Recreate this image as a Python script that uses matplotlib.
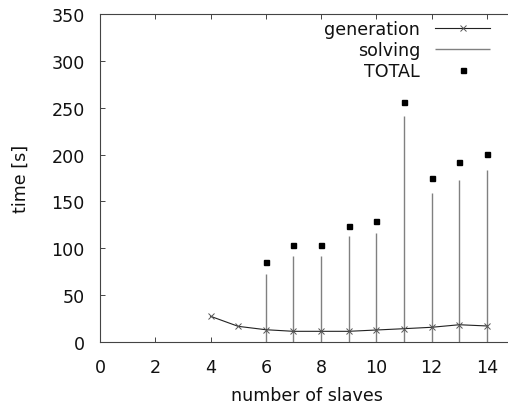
import matplotlib
matplotlib.use("Agg")
import matplotlib.pyplot as plt

# data
x_gen = [4, 5, 6, 7, 8, 9, 10, 11, 12, 13, 14]
generation = [27.7, 17.0, 13.4, 11.7, 11.7, 11.7, 13.1, 14.5, 16.0, 18.7, 17.4]
x_solve = [6, 7, 8, 9, 10, 11, 12, 13, 14]
solving = [72.7, 92.2, 92.2, 113.5, 116.4, 240.7, 158.7, 172.8, 183.5]
total = [85.2, 103.6, 103.6, 124.2, 128.9, 256.2, 174.6, 192.0, 200.9]
xticks = [0, 2, 4, 6, 8, 10, 12, 14]
yticks = [0, 50, 100, 150, 200, 250, 300, 350]

W, H = 508, 410
fig = plt.figure(figsize=(W / 100, H / 100), dpi=100)
plt.rcParams['font.family'] = ['DejaVu Sans']
fs = 12.6
tc = '#111111'

left, bottom_px, top_px = 100, 343.3, 14.7
ax_w = 27.64 * 15
ax = fig.add_axes([left / W, (H - bottom_px) / H, ax_w / W, (bottom_px - top_px) / H])

ax.plot(x_gen, generation, color='#222222', lw=0.8, marker='x', ms=5,
        mew=0.7, mec='#555555', label='generation', zorder=3)
ax.vlines(x_solve, 0, solving, colors='#808080', lw=1.0, label='solving', zorder=2)
ax.plot(x_solve, total, ls='none', marker='s', ms=3.6, color='black',
        label='TOTAL', zorder=4)

ax.set_xlim(0, 15)
ax.set_ylim(0, 350)
ax.set_xticks(xticks)
ax.set_yticks(yticks)
ax.tick_params(axis='x', direction='in', length=3.6, width=0.7, color='#444444',
               top=True, labelsize=fs, pad=11, labelcolor=tc)
ax.tick_params(axis='y', direction='in', length=3.6, width=0.7, color='#444444',
               right=False, labelsize=fs, pad=11, labelcolor=tc)
for s in ['left', 'bottom', 'top']:
    ax.spines[s].set_color('#444444')
    ax.spines[s].set_linewidth(0.8)
ax.spines['right'].set_visible(False)

ax.set_xlabel('number of slaves', fontsize=fs, color=tc)
ax.xaxis.label.set_va('center')
ax.xaxis.set_label_coords(0.5, -0.160)
ax.set_ylabel('time [s]', fontsize=fs, color=tc)
ax.yaxis.label.set_va('center')
ax.yaxis.set_label_coords(-0.1905, 0.5)

leg = ax.legend(loc='upper right', bbox_to_anchor=(490 / W, 1 - 21 / H),
                bbox_transform=fig.transFigure, frameon=False, markerfirst=False,
                fontsize=fs, handlelength=3.14, handletextpad=0.86,
                labelspacing=0.17, borderpad=0, borderaxespad=0, numpoints=1)
for t in leg.get_texts():
    t.set_color(tc)

fig.savefig('out.png', dpi=100)
